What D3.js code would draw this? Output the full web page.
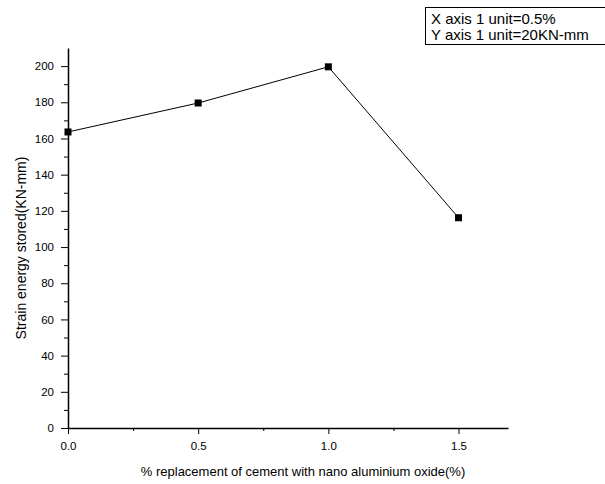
<!DOCTYPE html>
<html>
<head>
<meta charset="utf-8">
<script src="https://cdn.jsdelivr.net/npm/d3@7"></script>
<style>
  body { margin: 0; background: #fff; }
  svg { font-family: "Liberation Sans", Arial, sans-serif; }
</style>
</head>
<body>
<div id="chart"></div>
<script>
// data
const xValues = [0, 0.5, 1.0, 1.5];
const yValues = [163.6, 179.6, 199.6, 116.2];
const xTicks = [0, 0.5, 1.0, 1.5];
const yTicks = [0, 20, 40, 60, 80, 100, 120, 140, 160, 180, 200];
const noteLines = ["X axis 1 unit=0.5%", "Y axis 1 unit=20KN-mm"];

const width = 605, height = 484;
const margin = { top: 48, right: 97, bottom: 56, left: 68 };

const svg = d3.select("#chart").append("svg")
    .attr("width", width)
    .attr("height", height);

const x = d3.scaleLinear().domain([0, 1.69]).range([margin.left, width - margin.right]);
const y = d3.scaleLinear().domain([0, 210]).range([height - margin.bottom, margin.top]);

// minor ticks
svg.append("g")
    .attr("transform", "translate(0," + y(0) + ")")
    .call(d3.axisBottom(x).tickValues(d3.range(0.25, 1.7, 0.5)).tickSize(3).tickFormat(""))
    .call(g => g.select(".domain").remove());
svg.append("g")
    .attr("transform", "translate(" + x(0) + ",0)")
    .call(d3.axisLeft(y).tickValues(d3.range(10, 210, 20)).tickSize(4).tickFormat(""))
    .call(g => g.select(".domain").remove());

const xAxis = svg.append("g")
    .attr("transform", "translate(0," + y(0) + ")")
    .call(d3.axisBottom(x).tickValues(xTicks).tickSize(6).tickSizeOuter(0).tickPadding(8)
        .tickFormat(d3.format(".1f")));

const yAxis = svg.append("g")
    .attr("transform", "translate(" + x(0) + ",0)")
    .call(d3.axisLeft(y).tickValues(yTicks).tickSize(7).tickSizeOuter(0).tickPadding(7));

[xAxis, yAxis].forEach(g => {
    g.selectAll("text").style("font-size", "11.5px").attr("fill", "#000");
    g.select(".domain").attr("stroke-width", 1.5);
});
svg.selectAll(".tick line").attr("stroke", "#000");

svg.append("path")
    .datum(xValues.map((d, i) => [d, yValues[i]]))
    .attr("fill", "none")
    .attr("stroke", "#000")
    .attr("stroke-width", 1)
    .attr("d", d3.line().x(d => x(d[0])).y(d => y(d[1])));

svg.selectAll(".pt")
    .data(xValues.map((d, i) => [d, yValues[i]]))
    .enter().append("rect")
    .attr("class", "pt")
    .attr("x", d => x(d[0]) - 3.5)
    .attr("y", d => y(d[1]) - 3.5)
    .attr("width", 7)
    .attr("height", 7)
    .attr("fill", "#000");

svg.append("text")
    .attr("transform", "translate(26,248) rotate(-90)")
    .attr("text-anchor", "middle")
    .style("font-size", "14px")
    .text("Strain energy stored(KN-mm)");

svg.append("text")
    .attr("x", 303)
    .attr("y", 476)
    .attr("text-anchor", "middle")
    .style("font-size", "13px")
    .text("% replacement of cement with nano aluminium oxide(%)");

// note box
svg.append("rect")
    .attr("x", 425.5).attr("y", 7.5)
    .attr("width", 190).attr("height", 37)
    .attr("fill", "none").attr("stroke", "#000");
svg.selectAll(".note")
    .data(noteLines)
    .enter().append("text")
    .attr("class", "note")
    .attr("x", 431)
    .attr("y", (d, i) => 24 + i * 15.5)
    .style("font-size", "15px")
    .text(d => d);
</script>
</body>
</html>
